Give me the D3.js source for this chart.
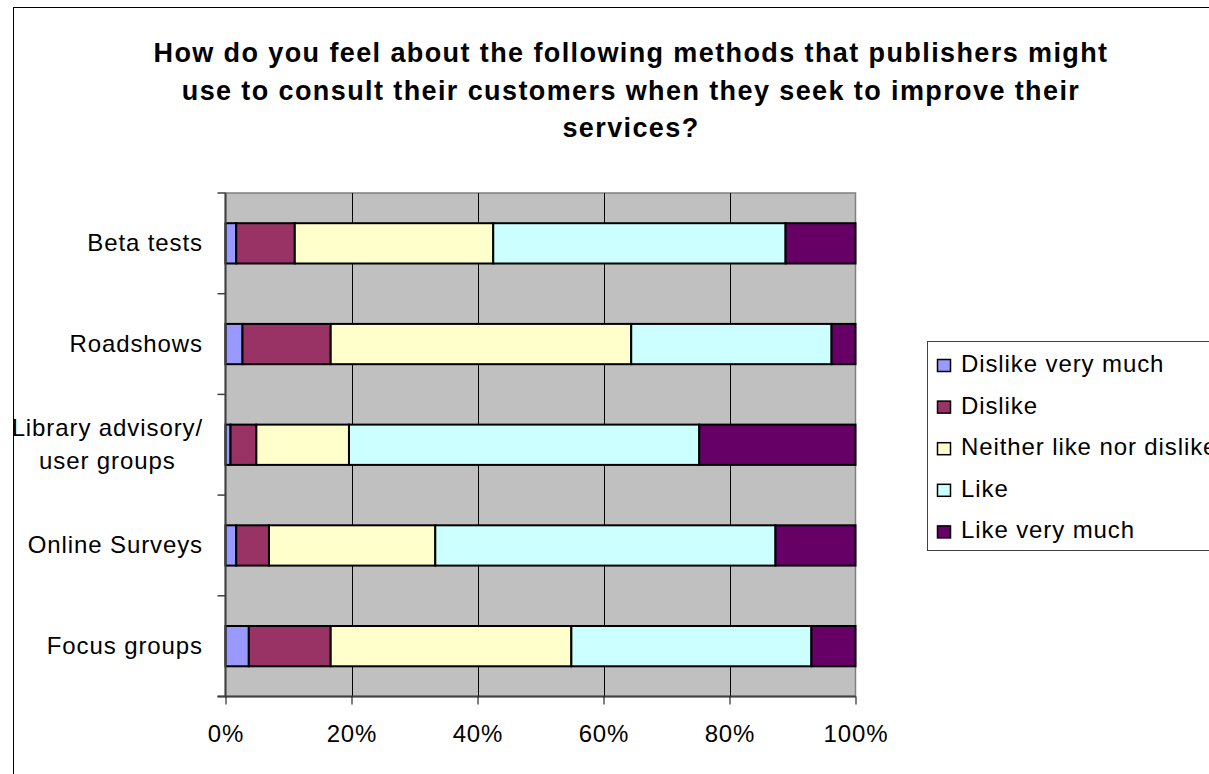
<!DOCTYPE html>
<html>
<head>
<meta charset="utf-8">
<script src="https://cdn.jsdelivr.net/npm/d3@7"></script>
<style>
  html, body { margin: 0; padding: 0; background: #fff; }
  svg { display: block; font-family: "Liberation Sans", Arial, sans-serif; }
</style>
</head>
<body>
<svg id="chart" width="1209" height="774"></svg>
<script>
const titleLines = [
  "How do you feel about the following methods that publishers might",
  "use to consult their customers when they seek to improve their",
  "services?"
];
const categories = ["Beta tests", "Roadshows", "Library advisory/ user groups", "Online Surveys", "Focus groups"];
const seriesNames = ["Dislike very much", "Dislike", "Neither like nor dislike", "Like", "Like very much"];
const dislikeVeryMuch = [1.7, 2.7, 0.8, 1.7, 3.7];
const dislike = [9.3, 14.0, 4.1, 5.2, 13.0];
const neither = [31.5, 47.7, 14.7, 26.4, 38.2];
const like = [46.4, 31.8, 55.6, 54.0, 38.1];
const likeVeryMuch = [11.1, 3.8, 24.8, 12.7, 7.0];
const xTicks = [0, 20, 40, 60, 80, 100];
const colors = ["#9999FF", "#993366", "#FFFFCC", "#CCFFFF", "#660066"];

const seriesValues = [dislikeVeryMuch, dislike, neither, like, likeVeryMuch];
const rows = categories.map((c, i) => {
  const r = { category: c };
  seriesNames.forEach((s, j) => { r[s] = seriesValues[j][i]; });
  return r;
});

const svg = d3.select("#chart");
const FS = 24, LS = 0.9;

// outer frame (extends beyond right/bottom edges)
svg.append("rect").attr("x", 13.5).attr("y", 7.5).attr("width", 1300).attr("height", 900)
  .attr("fill", "#fff").attr("stroke", "#000").attr("stroke-width", 1);

const plot = { left: 225.5, right: 855.5, top: 193, bottom: 696.5 };

const x = d3.scaleLinear().domain([0, 100]).range([plot.left, plot.right]);
const y = d3.scaleBand().domain(categories).range([plot.top, plot.bottom]).paddingInner(0.6).paddingOuter(0.3);

// title
const title = svg.append("text").attr("text-anchor", "middle").attr("font-weight", "bold")
  .attr("font-size", 27).attr("letter-spacing", 1.4).attr("fill", "#000");
titleLines.forEach((t, i) => {
  title.append("tspan").attr("x", 631).attr("y", 62 + i * 37.5).text(t);
});

// plot background
svg.append("rect").attr("x", plot.left).attr("y", plot.top)
  .attr("width", plot.right - plot.left).attr("height", plot.bottom - plot.top)
  .attr("fill", "#C0C0C0").attr("stroke", "#808080").attr("stroke-width", 1.5);

// gridlines
svg.append("g").selectAll("line").data(xTicks.filter(d => d > 0 && d < 100)).join("line")
  .attr("x1", d => Math.round(x(d)) + 0.5).attr("x2", d => Math.round(x(d)) + 0.5)
  .attr("y1", plot.top).attr("y2", plot.bottom)
  .attr("stroke", "#000").attr("stroke-width", 1);

// bars
const stack = d3.stack().keys(seriesNames);
const stacked = stack(rows);
svg.append("g").selectAll("g").data(stacked).join("g")
  .attr("fill", (d, i) => colors[i])
  .selectAll("rect").data(d => d).join("rect")
  .attr("x", d => x(d[0]))
  .attr("y", d => y(d.data.category))
  .attr("width", d => x(d[1]) - x(d[0]))
  .attr("height", y.bandwidth())
  .attr("stroke", "#000").attr("stroke-width", 2);

// x axis
const xAxis = d3.axisBottom(x).tickValues(xTicks).tickFormat(d => d + "%").tickSize(8).tickPadding(20);
const gx = svg.append("g").attr("transform", `translate(0,${plot.bottom})`).call(xAxis);
gx.select(".domain").attr("stroke", "#404040").attr("stroke-width", 2).attr("d", `M${plot.left - 8},0H${plot.right}`);
gx.selectAll(".tick line").attr("stroke", "#000");
gx.selectAll(".tick text").attr("font-size", FS).attr("letter-spacing", LS).attr("fill", "#000")
  .attr("font-family", "Liberation Sans, Arial, sans-serif");

// y axis line and ticks at category boundaries
const step = y.step();
const boundaries = d3.range(categories.length + 1).map(i => plot.top + i * step);
svg.append("line").attr("x1", plot.left).attr("x2", plot.left).attr("y1", plot.top).attr("y2", plot.bottom)
  .attr("stroke", "#404040").attr("stroke-width", 2);
svg.append("g").selectAll("line").data(boundaries).join("line")
  .attr("x1", plot.left - 8).attr("x2", plot.left).attr("y1", d => d).attr("y2", d => d)
  .attr("stroke", "#404040").attr("stroke-width", 1.5);

// category labels
const labelG = svg.append("g").attr("font-size", FS).attr("letter-spacing", LS).attr("fill", "#000");
categories.forEach(c => {
  const lines = c.split("/ ").map((s, i, arr) => i < arr.length - 1 ? s + "/" : s);
  const cy = y(c) + y.bandwidth() / 2;
  const lh = 33;
  const t = labelG.append("text").attr("text-anchor", "middle");
  lines.forEach((l, i) => {
    t.append("tspan").attr("x", 0).attr("y", cy + 8 + (i - (lines.length - 1) / 2) * lh).text(l);
  });
  let maxW = 0;
  t.selectAll("tspan").each(function () { maxW = Math.max(maxW, this.getComputedTextLength()); });
  t.selectAll("tspan").attr("x", 203 - maxW / 2);
});

// legend
const lg = svg.append("g");
lg.append("rect").attr("x", 927.5).attr("y", 341.5).attr("width", 400).attr("height", 209)
  .attr("fill", "#fff").attr("stroke", "#404040").attr("stroke-width", 1);
seriesNames.forEach((s, i) => {
  const by = 372 + i * 41.6;
  lg.append("rect").attr("x", 937.5).attr("y", by - 12.5).attr("width", 13).attr("height", 12)
    .attr("fill", colors[i]).attr("stroke", "#000").attr("stroke-width", 1.5);
  lg.append("text").attr("x", 961).attr("y", by).attr("font-size", FS).attr("letter-spacing", LS)
    .attr("fill", "#000").text(s);
});
</script>
</body>
</html>
